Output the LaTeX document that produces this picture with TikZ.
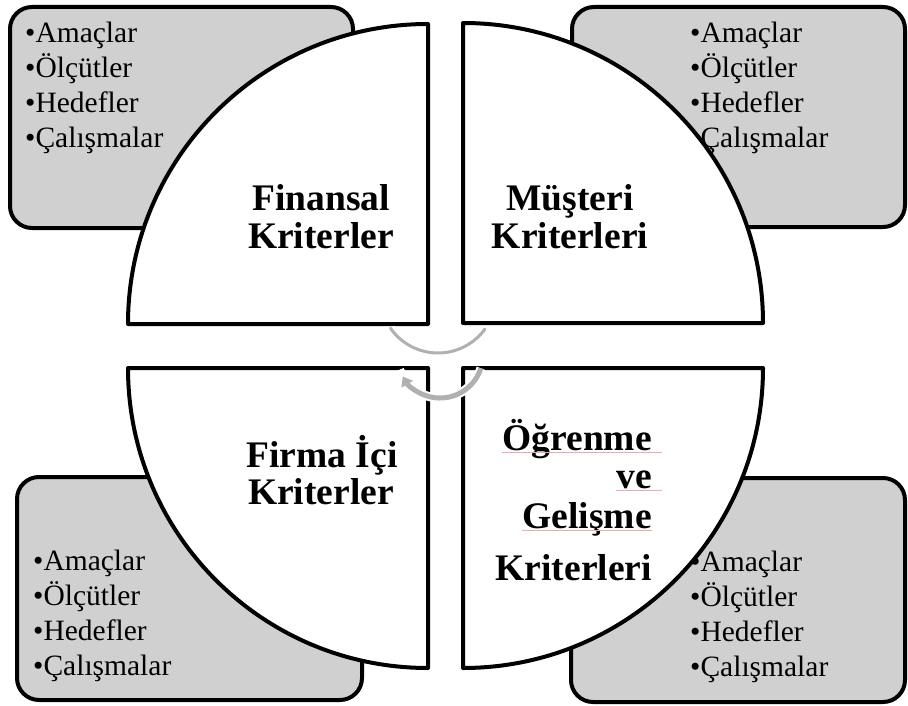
\documentclass[tikz,border=0pt]{standalone}
\usepackage{fontspec}
\setmainfont{Liberation Serif}
\usetikzlibrary{arrows.meta}
\definecolor{boxgray}{HTML}{D0D0D0}
\definecolor{arcgray}{HTML}{B0B0B0}
\definecolor{squiggle}{HTML}{F2A8A8}
\tikzset{
  graybox/.style={draw=black,fill=boxgray,line width=4pt,rounded corners=22pt},
  pie/.style={draw=black,fill=white,line width=4pt,line join=round},
  listtxt/.style={anchor=base west,inner sep=0pt,font=\fontsize{29.5}{35}\selectfont},
  title/.style={anchor=base,inner sep=0pt,font=\fontsize{37.5}{38}\selectfont\bfseries},
  titler/.style={title,anchor=base east},
  arcwhite/.style={white,line width=9pt},
  arcthin/.style={arcgray,line width=3pt},
  arcthick/.style={arcgray,line width=5pt},
}
\begin{document}
\begin{tikzpicture}[x=1pt,y=-1pt]
\useasboundingbox (0,0) rectangle (908,706);
% gray boxes
\draw[graybox] (10,7) rectangle (353,228);
\draw[graybox] (572,7) rectangle (905,227);
\draw[graybox] (17,477) rectangle (362,700);
\draw[graybox] (571,478) rectangle (905,702);
% lists
\foreach \t [count=\i] in {Amaçlar,Ölçütler,Hedefler,Çalışmalar}{
  \node[listtxt] (tl\i) at (25,{8+35*\i}) {•\t};
  \node[listtxt] (tr\i) at (690,{8+35*\i}) {•\t};
  \node[listtxt] (bl\i) at (33,{535+35*\i}) {•\t};
  \node[listtxt] (br\i) at (690,{536+35*\i}) {•\t};
}
% quarter pies
\draw[pie] (428,324) -- (128,324) arc[start angle=180,end angle=270,radius=300] -- cycle;
\draw[pie] (463,323) -- (463,23) arc[start angle=270,end angle=360,radius=300] -- cycle;
\draw[pie] (428,368) -- (428,668) arc[start angle=90,end angle=180,radius=300] -- cycle;
\draw[pie] (463,368) -- (763,368) arc[start angle=0,end angle=90,radius=300] -- cycle;
% titles
\node[title] (f1) at (321,210) {Finansal};
\node[title] (f2) at (321,248) {Kriterler};
\node[title] (m1) at (570,210) {Müşteri};
\node[title] (m2) at (570,248) {Kriterleri};
\node[title] (i1) at (322,467) {Firma İçi};
\node[title] (i2) at (321,504) {Kriterler};
\node[titler] (o1) at (652,450) {Öğrenme};
\node[titler] (o2) at (652,488) {ve};
\node[titler] (o3) at (652,528) {Gelişme};
\node[titler] (o4) at (652,580) {Kriterleri};
% spell-check underlines
\draw[squiggle,line width=1pt] (o1.base west) ++(0,2) -- (662,452);
\draw[squiggle,line width=1pt] (o2.base west) ++(0,2) -- (662,490);
\draw[squiggle,line width=1pt] (o3.base west) ++(0,2) -- (652,530);
% central circular arrows
\draw[arcwhite] (438,295) ++(145:58) arc[start angle=145,end angle=36,radius=58];
\draw[arcthin,line cap=round] (438,295) ++(145:58) arc[start angle=145,end angle=36,radius=58];
\draw[arcwhite] (440,355) ++(18:43) arc[start angle=18,end angle=160,radius=43];
\draw[arcthick,-{Triangle[width=13pt,length=9pt]}] (440,355) ++(18:43) arc[start angle=18,end angle=150,radius=43];
\end{tikzpicture}
\end{document}
